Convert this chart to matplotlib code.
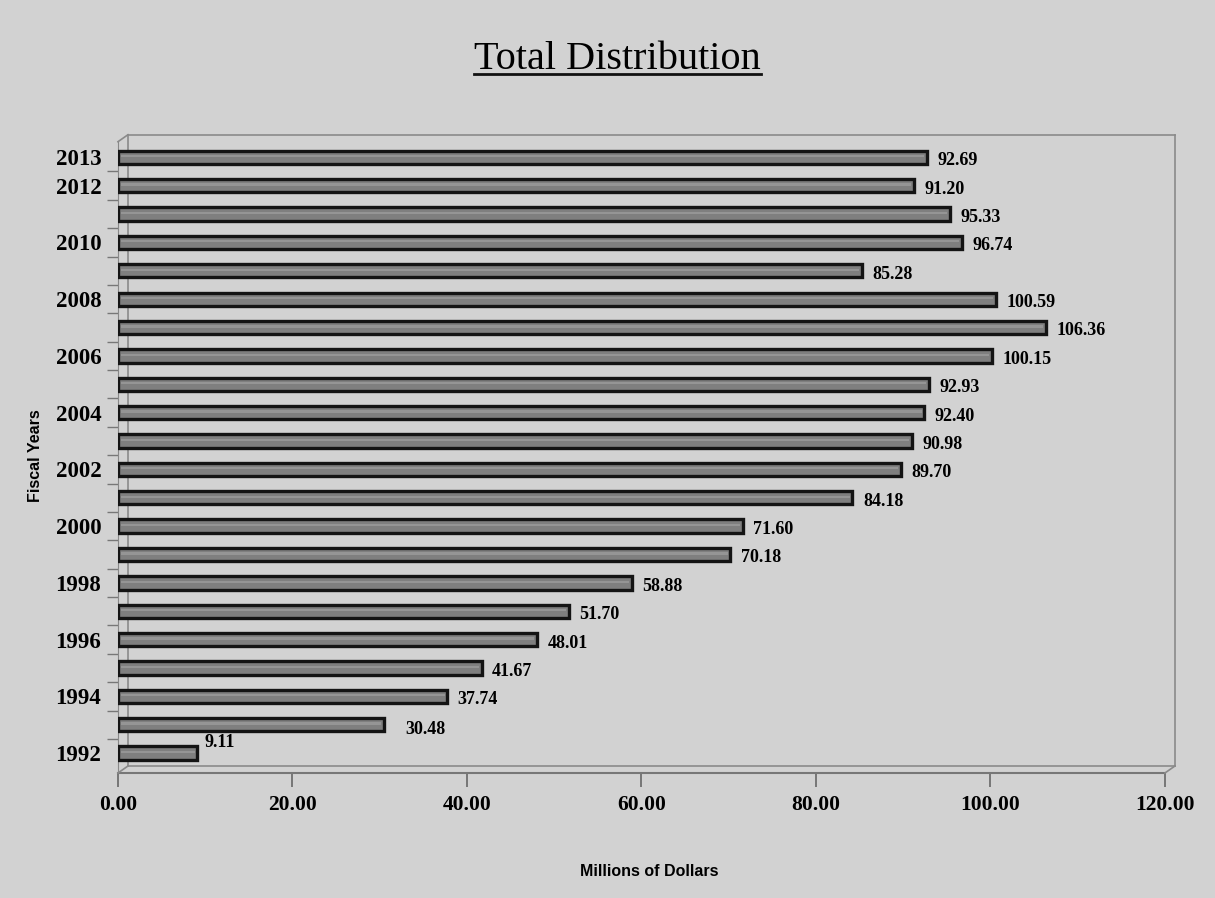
import matplotlib
matplotlib.use("Agg")
import matplotlib.pyplot as plt
from matplotlib.lines import Line2D
import matplotlib.transforms as mtransforms

years = list(range(1992, 2014))
values = [9.11, 30.48, 37.74, 41.67, 48.01, 51.70, 58.88, 70.18, 71.60, 84.18,
          89.70, 90.98, 92.40, 92.93, 100.15, 106.36, 100.59, 85.28, 96.74,
          95.33, 91.20, 92.69]
tick_years = [1992, 1994, 1996, 1998, 2000, 2002, 2004, 2006, 2008, 2010, 2012, 2013]
x_ticks = [0, 20, 40, 60, 80, 100, 120]

bg = "#d2d2d2"
serif = "Liberation Serif"
sans = "Liberation Sans"

fig = plt.figure(figsize=(12.15, 8.98), dpi=100, facecolor=bg)
ax = fig.add_axes([0.0971, 0.1392, 0.8617, 0.7030])
ax.set_facecolor("none")

pos = list(range(len(years)))
ax.barh(pos, values, height=0.47, color="#7f7f7f", edgecolor="#141414",
        linewidth=2.4, zorder=3)
# faint highlight strip for a cylinder look
ax.barh([p + 0.04 for p in pos], [v - 0.6 for v in values], left=0.3,
        height=0.08, color="#959595", edgecolor="none", zorder=4)

for p, v in zip(pos, values):
    if p == 0:
        ax.text(v + 0.8, p + 0.38, f"{v:.2f}", fontsize=13, family=serif,
                weight="bold", va="center", ha="left", zorder=5)
    elif p == 1:
        ax.text(v + 2.4, p - 0.15, f"{v:.2f}", fontsize=13, family=serif,
                weight="bold", va="center", ha="left", zorder=5)
    else:
        ax.text(v + 1.2, p - 0.12, f"{v:.2f}", fontsize=13, family=serif,
                weight="bold", va="center", ha="left", zorder=5)

ax.set_xlim(0, 120)
ax.set_ylim(-0.7, 21.55)
ax.set_xticks(x_ticks)
ax.set_xticklabels([f"{t:.2f}" for t in x_ticks], fontsize=15.5, family=serif,
                   weight="bold")
ax.set_yticks([years.index(y) for y in tick_years])
ax.set_yticklabels([str(y) for y in tick_years], fontsize=16.5, family=serif,
                   weight="bold")
ax.set_yticks([p + 0.5 for p in pos[:-1]], minor=True)
ax.tick_params(axis="y", which="major", length=0, pad=12)
ax.tick_params(axis="y", which="minor", length=8, color="#777777", width=1)
ax.tick_params(axis="x", length=10, color="#666666", width=1.2, pad=6)

for s in ["top", "right"]:
    ax.spines[s].set_visible(False)
ax.spines["left"].set_color("#888888")
ax.spines["bottom"].set_color("#777777")
ax.spines["bottom"].set_linewidth(1.5)

# back wall of the pseudo 3D frame
off = mtransforms.ScaledTranslation(10 / 100, 7 / 100, fig.dpi_scale_trans)
tr = ax.transAxes + off
for xs, ys in [([0, 0], [0, 1]), ([0, 1], [1, 1]), ([1, 1], [1, 0]), ([0, 1], [0, 0])]:
    ax.add_line(Line2D(xs, ys, transform=tr, color="#8a8a8a", lw=1.2,
                       clip_on=False, zorder=1))
# connectors front -> back
for xa, ya in [(0, 0), (0, 1), (1, 0)]:
    p0 = ax.transAxes.transform((xa, ya))
    p1 = tr.transform((xa, ya))
    fig.add_artist(Line2D([p0[0] / fig.bbox.width, p1[0] / fig.bbox.width],
                          [p0[1] / fig.bbox.height, p1[1] / fig.bbox.height],
                          transform=fig.transFigure, color="#8a8a8a", lw=1.2))

fig.text(0.534, 0.029, "Millions of Dollars", fontsize=11.5, family=sans,
         weight="bold", ha="center", va="center")
fig.text(0.029, 0.493, "Fiscal Years", fontsize=11.5, family=sans,
         weight="bold", ha="center", va="center", rotation=90)

title = fig.text(0.508, 0.934, "Total Distribution", fontsize=29, family=serif,
                 ha="center", va="center")
fig.canvas.draw()
bb = title.get_window_extent().transformed(fig.transFigure.inverted())
fig.add_artist(Line2D([bb.x0, bb.x1], [bb.y0 + 0.004, bb.y0 + 0.004],
                      transform=fig.transFigure, color="#111111", lw=2))

fig.savefig("out.png", dpi=100, facecolor=bg)
